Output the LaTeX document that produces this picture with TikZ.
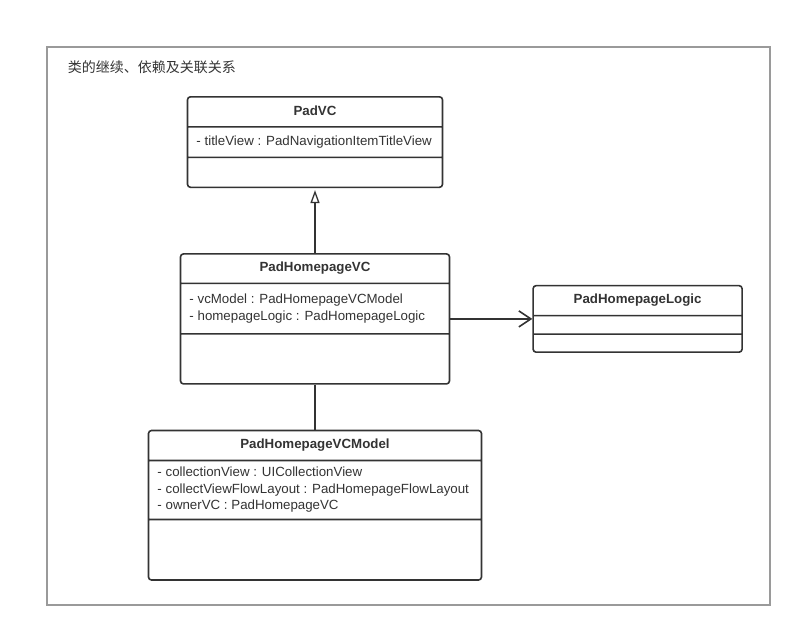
\documentclass[tikz,border=0pt]{standalone}
\usepackage{fontspec}
\setmainfont{Liberation Sans}
\newfontfamily\cjk{Noto Sans CJK SC}
\usetikzlibrary{arrows.meta,shapes.multipart,matrix,calc}
\definecolor{umlline}{HTML}{333333}
\definecolor{umlframe}{HTML}{9A9A9A}
% one compartment of a class box, fixed height, text centred vertically
\newcommand{\cpart}[2]{\vbox to \dimexpr#1-1.6pt\relax{\vfil\hbox{\begin{tabular}{@{}l@{}}#2\end{tabular}}\vfil}}

\begin{document}
\begin{tikzpicture}[->,>={Straight Barb[length=12pt,width=16pt]}
  ,line width=1.6pt
  ,color=umlline]
  \tikzstyle{class}=[rectangle split, rectangle split parts=3
  ,draw=umlline, rounded corners=3pt
  ,inner xsep=9pt, inner ysep=0pt
  ,rectangle split part align={center,left,left}
  ,font=\fontsize{13.3}{16.5}\selectfont]

  \matrix (m) [row sep=45pt,column sep=50pt]
  {
    % parent class
    \node[class,minimum width=255pt](padvc) {\cpart{30pt}{\bfseries PadVC}
      \nodepart{two}\cpart{30.5pt}{- titleView : PadNavigationItemTitleView}
      \nodepart{three}\cpart{30pt}{}};
    & \\[20pt]
    % the view controller and its logic
    \node[class,minimum width=269pt](vc) {\cpart{29.5pt}{\bfseries PadHomepageVC}
      \nodepart{two}\cpart{50.5pt}{- vcModel : PadHomepageVCModel\\
        - homepageLogic : PadHomepageLogic}
      \nodepart{three}\cpart{50pt}{}};
    &
    \node[class,minimum width=209pt](logic) {\cpart{30pt}{\bfseries PadHomepageLogic}
      \nodepart{two}\cpart{18.5pt}{}
      \nodepart{three}\cpart{18pt}{}};
    \\
    % model
    \node[class,minimum width=333pt](model) {\cpart{30pt}{\bfseries PadHomepageVCModel}
      \nodepart{two}\cpart{59pt}{- collectionView : UICollectionView\\
        - collectViewFlowLayout : PadHomepageFlowLayout\\
        - ownerVC : PadHomepageVC}
      \nodepart{three}\cpart{60.5pt}{}};
    & \\
  };

  \coordinate (o) at ($(padvc.north)+(-315pt,96pt)$);
  \draw[-,umlframe,line width=1.4pt] ($(o)+(47pt,-47pt)$) rectangle ($(o)+(770pt,-605pt)$);
  \node[anchor=west,inner sep=0pt,font=\cjk\fontsize{14}{16}\selectfont]
    (title) at ($(o)+(67pt,-67pt)$) {类的继续、依赖及关联关系};

  \path[-{Triangle[open,length=13pt,width=9pt,line width=1.3pt]},shorten >=2pt] (vc.north) edge (padvc.south);
  \path (vc.east) edge (logic.west);
  \path[-] (vc.south) edge (model.north);

  \useasboundingbox (o) rectangle ($(o)+(802pt,-638pt)$);
\end{tikzpicture}
\end{document}
